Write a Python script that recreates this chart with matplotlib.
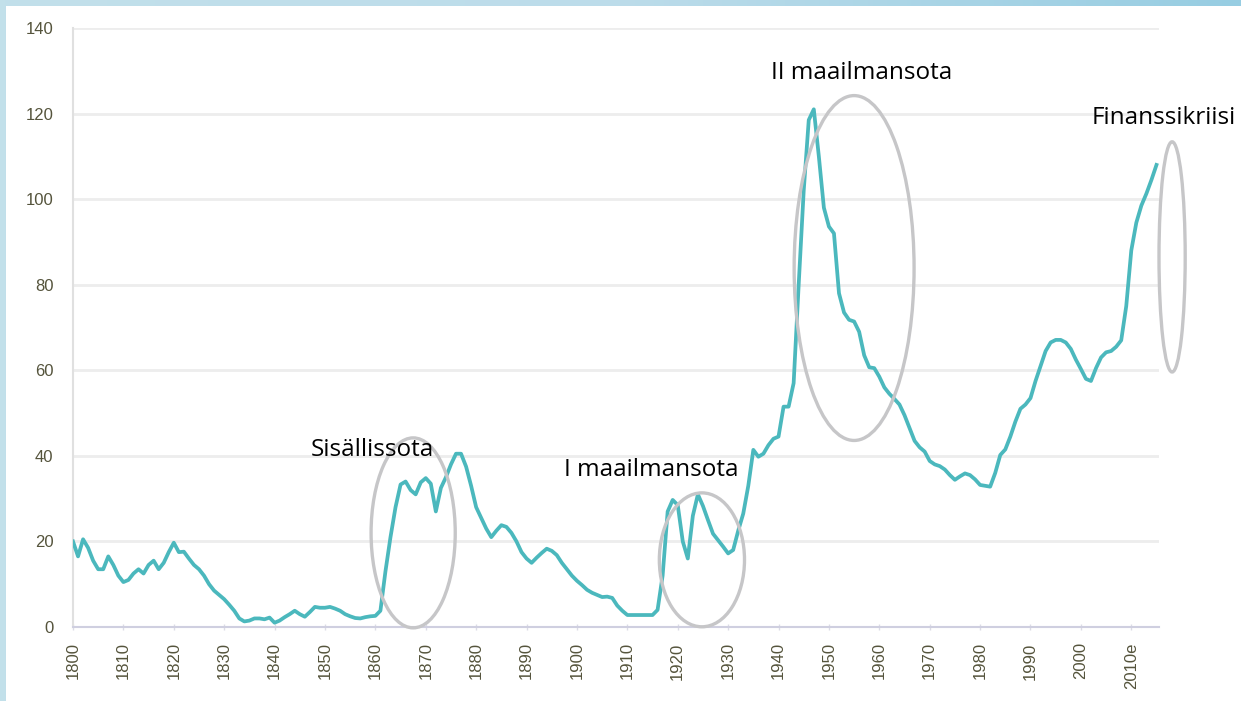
#!/usr/bin/env python
# -*- coding: utf-8 -*-

"""Julkinen velka suhteessa BKT:hen 1800-2015, sotien ja kriisien kohdat
merkittyinä ellipseillä."""

import numpy as np
import matplotlib

matplotlib.use("Agg")
import matplotlib.pyplot as plt
from matplotlib.patches import Ellipse, Rectangle
from matplotlib.colors import LinearSegmentedColormap

# ---------------------------------------------------------------------
# Data (one value per year 1800-2015)
# ---------------------------------------------------------------------
years = np.arange(1800, 2016)
debt = [
    20.0, 16.5, 20.5, 18.5, 15.5, 13.5, 13.5, 16.5, 14.5, 12.0,  # 1800s
    10.5, 11.0, 12.5, 13.5, 12.5, 14.5, 15.5, 13.5, 15.0, 17.5,  # 1810s
    19.7, 17.5, 17.6, 16.0, 14.5, 13.5, 12.0, 10.0, 8.5, 7.5,  # 1820s
    6.5, 5.2, 3.8, 2.0, 1.3, 1.5, 2.0, 2.0, 1.8, 2.2,  # 1830s
    1.0, 1.5, 2.3, 3.0, 3.8, 3.0, 2.4, 3.5, 4.7, 4.5,  # 1840s
    4.5, 4.7, 4.3, 3.8, 3.0, 2.5, 2.1, 2.0, 2.3, 2.5,  # 1850s
    2.6, 3.8, 13.0, 21.0, 28.0, 33.3, 34.0, 32.0, 31.0, 33.8,  # 1860s
    34.8, 33.5, 27.0, 32.5, 35.0, 38.0, 40.5, 40.5, 37.5, 33.0,  # 1870s
    28.0, 25.5, 23.0, 21.0, 22.5, 23.8, 23.4, 22.0, 20.0, 17.5,  # 1880s
    16.0, 15.0, 16.2, 17.3, 18.3, 17.8, 16.8, 15.0, 13.5, 12.0,  # 1890s
    10.8, 9.8, 8.7, 8.0, 7.5, 7.0, 7.1, 6.8, 5.0, 3.8,  # 1900s
    2.8, 2.8, 2.8, 2.8, 2.8, 2.8, 4.0, 12.0, 27.0, 29.7,  # 1910s
    28.5, 20.0, 16.0, 26.0, 31.0, 28.3, 25.0, 21.8, 20.3, 18.8,  # 1920s
    17.2, 18.0, 22.5, 26.5, 33.0, 41.4, 39.8, 40.5, 42.5, 44.0,  # 1930s
    44.5, 51.5, 51.5, 57.0, 80.0, 102.0, 118.5, 121.0, 110.0, 98.0,  # 1940s
    93.6, 92.0, 78.0, 73.5, 71.8, 71.4, 69.0, 63.5, 60.7, 60.5,  # 1950s
    58.5, 56.0, 54.5, 53.3, 52.0, 49.5, 46.5, 43.5, 42.0, 41.0,  # 1960s
    38.8, 38.0, 37.6, 36.8, 35.5, 34.4, 35.2, 35.9, 35.5, 34.5,  # 1970s
    33.2, 33.0, 32.8, 36.0, 40.2, 41.5, 44.5, 48.0, 51.0, 52.0,  # 1980s
    53.5, 57.5, 61.0, 64.5, 66.5, 67.1, 67.1, 66.5, 65.0, 62.5,  # 1990s
    60.3, 58.0, 57.5, 60.5, 63.0, 64.2, 64.5, 65.5, 67.0, 75.0,  # 2000s
    88.0, 94.5, 98.5, 101.3, 104.5, 108.0,  # 2010s
]

x_ticks = list(range(1800, 2011, 10))
x_labels = [str(y) for y in x_ticks[:-1]] + ["2010e"]
y_ticks = list(range(0, 141, 20))

# annotations: label, label position (year, value), ellipse centre, width, height
events = ["Sisällissota", "I maailmansota", "II maailmansota", "Finanssikriisi"]
label_pos = [(1859.5, 41.4), (1914.7, 36.7), (1956.5, 129.5), (2016.5, 119.0)]
ellipse_xy = [(1867.5, 22.0), (1924.8, 15.7), (1955.0, 83.9), (2018.1, 86.5)]
ellipse_w = [16.7, 16.9, 23.8, 5.2]
ellipse_h = [44.4, 31.3, 80.6, 53.8]

LINE = "#4bb8bd"
TICK_TXT = "#55543c"

fig = plt.figure(figsize=(12.41, 7.01), dpi=100)

# light blue frame with a gentle left-to-right gradient
bg = fig.add_axes([0, 0, 1, 1], zorder=-2)
cmap = LinearSegmentedColormap.from_list("frame", ["#c2e0ea", "#bcdcea", "#97cde2"])
bg.imshow(np.linspace(0, 1, 256)[None, :], aspect="auto", cmap=cmap,
          extent=[0, 1, 0, 1])
bg.set_axis_off()
fig.patches.append(
    Rectangle((6 / 1241, 0), 1, 1 - 6 / 701, transform=fig.transFigure,
              facecolor="white", edgecolor="none", zorder=-1)
)

ax = fig.add_axes([73 / 1241, 1 - 627 / 701, (1159 - 73) / 1241, (627 - 28) / 701])
ax.set_facecolor("none")

ax.plot(years, debt, color=LINE, lw=2.7, solid_joinstyle="round", zorder=3)

for label, (tx, ty), (cx, cy), w, h in zip(
    events, label_pos, ellipse_xy, ellipse_w, ellipse_h
):
    ax.add_patch(
        Ellipse((cx, cy), w, h, fill=False, edgecolor="#c6c6c8", lw=2.4,
                clip_on=False, zorder=4)
    )
    ax.text(tx, ty, label, ha="center", va="center", fontsize=17.5,
            family="Open Sans", color="black", clip_on=False, zorder=5)

ax.set_xlim(1800, 2015.5)
ax.set_ylim(0, 140)

ax.set_yticks(y_ticks)
ax.set_yticklabels([str(v) for v in y_ticks], fontsize=12,
                   family="Liberation Sans", color=TICK_TXT)
ax.set_xticks(x_ticks)
ax.set_xticklabels(x_labels, rotation=90, fontsize=12,
                   family="Liberation Sans", color=TICK_TXT)
ax.tick_params(axis="y", length=0, pad=14)
ax.tick_params(axis="x", length=4, width=1, color="#dcdce6",
               direction="inout", pad=9)

ax.grid(axis="y", color="#ededed", lw=2)
ax.set_axisbelow(True)
for side in ["top", "right"]:
    ax.spines[side].set_visible(False)
ax.spines["left"].set_color("#e0e0e0")
ax.spines["left"].set_linewidth(1.5)
ax.spines["bottom"].set_color("#cfcfe0")
ax.spines["bottom"].set_linewidth(1.5)

plt.savefig("out.png", dpi=100)
